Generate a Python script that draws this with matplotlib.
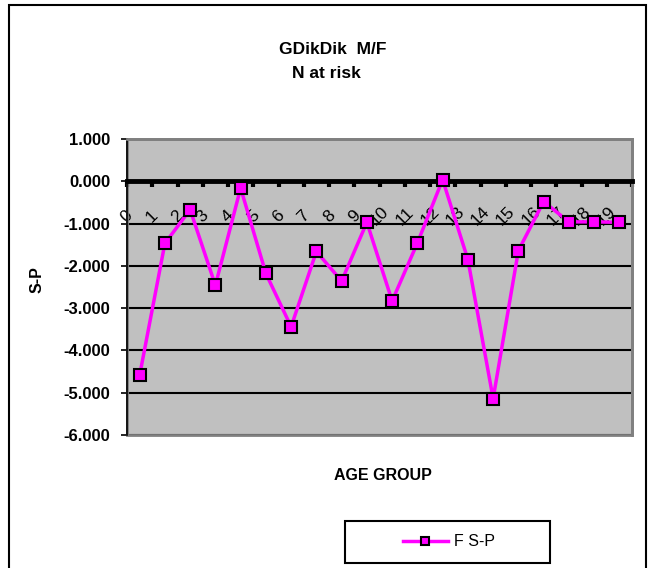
import matplotlib
matplotlib.use("Agg")
import matplotlib.pyplot as plt
from matplotlib.patches import Rectangle
from matplotlib.ticker import FixedLocator, FixedFormatter

plt.rcParams['font.family'] = ['Liberation Sans', 'DejaVu Sans']

title_lines = ["GDikDik  M/F", "N at risk"]
age_groups = [str(i) for i in range(20)]
fsp_values = [-4.59, -1.47, -0.67, -2.46, -0.16, -2.18, -3.44, -1.66, -2.36, -0.97,
              -2.83, -1.46, 0.04, -1.85, -5.14, -1.64, -0.48, -0.96, -0.96, -0.97]
y_ticks = [1, 0, -1, -2, -3, -4, -5, -6]
series_name = "F S-P"
x_title = "AGE GROUP"
y_title = "S-P"

W, H = 662, 568
fig = plt.figure(figsize=(W / 100, H / 100), dpi=100)

# outer chart border (bottom edge falls just outside the image)
fig.patches.append(Rectangle((9 / W, -4 / H), (646 - 9) / W, (568 + 4 - 5) / H,
                             transform=fig.transFigure, fill=False,
                             edgecolor='black', linewidth=1.5, zorder=0))

L, R, T, B = 127, 632, 139, 435
ax = fig.add_axes([L / W, 1 - B / H, (R - L) / W, (B - T) / H])
ax.set_facecolor('#C0C0C0')

n = len(age_groups)
xs = list(range(n))
ax.plot(xs, fsp_values, color='#FF00FF', linewidth=2.5, marker='s', markersize=8,
        markerfacecolor='#FF00FF', markeredgecolor='black', markeredgewidth=1.5,
        zorder=5, label=series_name, clip_on=False)

ax.set_xlim(-0.5, n - 0.5)
ax.set_ylim(min(y_ticks), max(y_ticks))
ax.set_yticks(y_ticks)
ax.set_yticklabels([f"{v:.3f}" for v in y_ticks], fontsize=12, fontweight='bold')
ax.yaxis.grid(True, color='black', linewidth=1.5)
ax.set_axisbelow(True)

for s in ['top', 'right']:
    ax.spines[s].set_color('#808080')
    ax.spines[s].set_linewidth(2)
ax.spines['left'].set_color('black')
ax.spines['left'].set_linewidth(1.2)
ax.spines['bottom'].set_position(('data', 0))
ax.spines['bottom'].set_linewidth(3.5)
ax.spines['bottom'].set_zorder(4)
ax.add_patch(Rectangle((0, 0), 1, 1, transform=ax.transAxes, fill=False,
                       edgecolor='#808080', linewidth=2, zorder=1, clip_on=False))

bounds = [i - 0.5 for i in range(n + 1)]
ax.xaxis.set_major_locator(FixedLocator(bounds))
ax.xaxis.set_major_formatter(FixedFormatter(age_groups + [""]))
ax.tick_params(axis='x', direction='out', length=4, width=3, pad=21, labelsize=12.5)
for lab in ax.get_xticklabels():
    lab.set_rotation(45)
    lab.set_rotation_mode('anchor')
    lab.set_ha('center')
    lab.set_va('center')
ax.tick_params(axis='y', direction='out', length=4, width=1.2, pad=8)

fig.text(333 / W, 1 - 50 / H, title_lines[0], ha='center', va='center',
         fontsize=12.5, fontweight='bold')
fig.text(326 / W, 1 - 73 / H, title_lines[1], ha='center', va='center',
         fontsize=12.5, fontweight='bold')
fig.text(383 / W, 1 - 475 / H, x_title, ha='center', va='center',
         fontsize=11.5, fontweight='bold')
fig.text(37 / W, 1 - 280 / H, y_title, ha='center', va='center', rotation=90,
         fontsize=11.5, fontweight='bold')

# legend box
fig.patches.append(Rectangle((345 / W, 1 - 563 / H), (550 - 345) / W, (563 - 521) / H,
                             transform=fig.transFigure, fill=False,
                             edgecolor='black', linewidth=1.5))
fig.legend(handles=ax.get_lines(), labels=[series_name], loc='center',
           bbox_to_anchor=(449 / W, 1 - 542 / H), frameon=False, fontsize=11.5,
           handlelength=2.8, handletextpad=0.4, markerscale=0.8)

fig.savefig("out.png", dpi=100)
